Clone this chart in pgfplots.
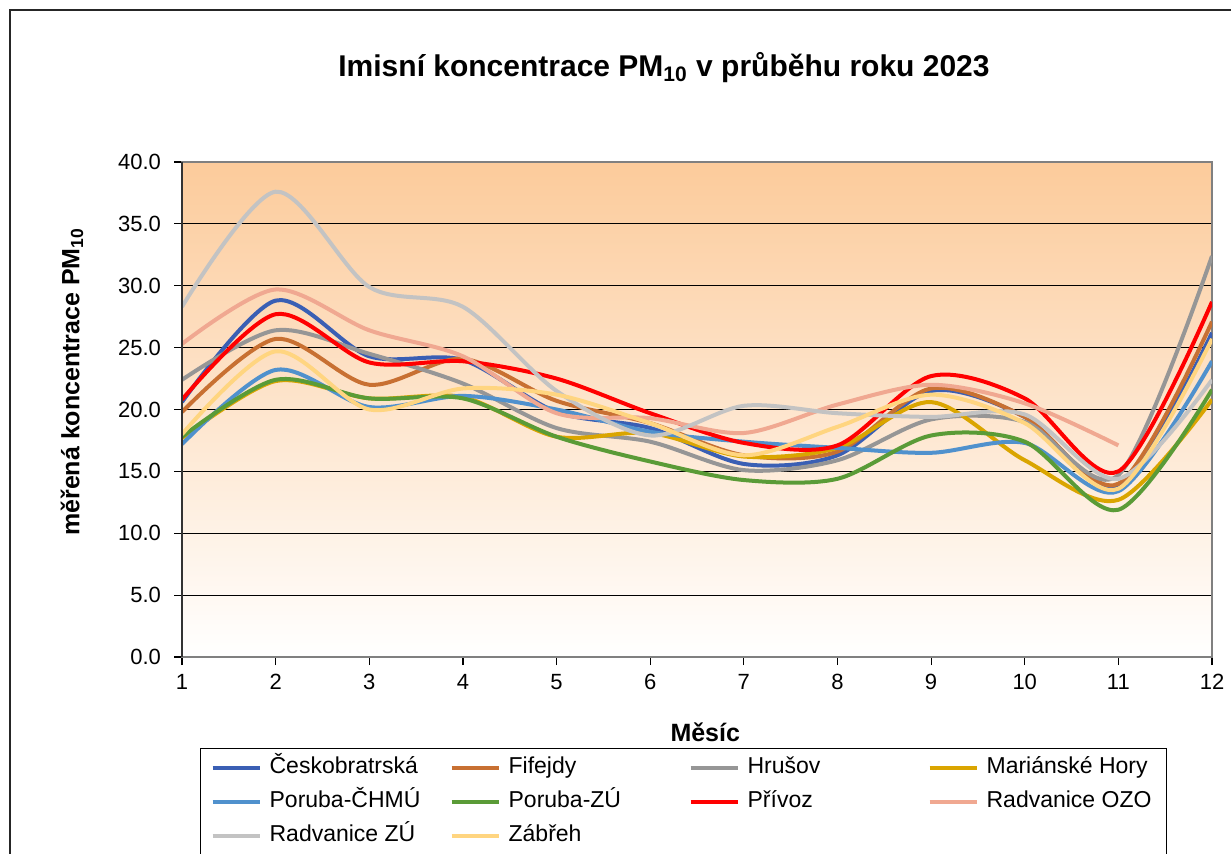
\documentclass[border=0pt]{standalone}
\usepackage{fontspec}
\setmainfont{Liberation Sans}
\usepackage{pgfplots}
\pgfplotsset{compat=1.18}
\definecolor{cCB}{RGB}{58,95,180}
\definecolor{cFif}{RGB}{200,112,50}
\definecolor{cHru}{RGB}{150,150,150}
\definecolor{cMar}{RGB}{218,165,0}
\definecolor{cPorC}{RGB}{80,145,205}
\definecolor{cPorZ}{RGB}{90,155,55}
\definecolor{cPri}{RGB}{255,0,0}
\definecolor{cOZO}{RGB}{240,168,145}
\definecolor{cRZU}{RGB}{195,195,195}
\definecolor{cZab}{RGB}{255,213,128}
\definecolor{peach}{RGB}{252,203,155}
\newcommand{\legtxt}[1]{\makebox[83pt][l]{#1}}
\begin{document}
\begin{tikzpicture}
\useasboundingbox (0,0) rectangle (615.5pt,426.5pt);
\draw[black!85, line width=0.6pt] (5pt,-20pt) -- (5pt,421.5pt) -- (640pt,421.5pt);
\node[font=\bfseries\fontsize{15}{18}\selectfont, anchor=base] at (332pt,388pt) {Imisní koncentrace PM\textsubscript{10} v průběhu roku 2023};
\begin{axis}[
  at={(91pt,98pt)}, anchor=south west,
  scale only axis, width=515pt, height=247.5pt,
  xmin=1, xmax=12, ymin=0, ymax=40,
  xtick={1,...,12}, ytick={0,5,...,40},
  tick pos=left, tick align=outside, major tick length=4pt,
  tick style={black, line width=0.6pt},
  ymajorgrids, grid style={black, line width=0.6pt},
  axis line style={draw=gray, line width=1.2pt},
  axis background/.style={shade, top color=peach, bottom color=white},
  /pgf/number format/assume math mode=true,
  yticklabel style={/pgf/number format/fixed, /pgf/number format/precision=1, /pgf/number format/fixed zerofill, font=\fontsize{11}{13}\selectfont, xshift=-3pt},
  xticklabel style={font=\fontsize{11}{13}\selectfont, yshift=-1pt},
  ylabel={měřená koncentrace PM\textsubscript{10}},
  ylabel style={font=\bfseries\fontsize{12.5}{15}\selectfont, at={(axis description cs:-0.1068,0.556)}, anchor=center},
  xlabel={Měsíc},
  xlabel style={font=\bfseries\fontsize{12.5}{15}\selectfont, at={(axis description cs:0.508,-0.1515)}, anchor=center},
  legend columns=4,
  legend cell align=left,
  legend image code/.code={\draw[#1, line width=2pt] (0pt,0pt) -- (23.5pt,0pt);},
  legend style={at={(axis description cs:0.0175,-0.1838)}, anchor=north west,
    draw=black, line width=0.6pt, inner xsep=5pt, inner ysep=2.5pt,
    font=\fontsize{11.5}{13}\selectfont,
    nodes={inner xsep=2pt, inner ysep=1.5pt, text height=8.5pt, text depth=2.5pt},
    row sep=3pt,
    /tikz/every odd column/.append style={column sep=2pt},
    /tikz/every even column/.append style={column sep=5pt}},
  every axis plot/.append style={smooth, tension=0.5, line width=2pt, no markers},
  after end axis/.code={\draw[black!80, line width=1.2pt] (rel axis cs:0,0) -- (rel axis cs:0,1);},
]
\addplot[cCB] coordinates {(1,20.6)(2,28.8)(3,24.3)(4,24.0)(5,19.8)(6,18.5)(7,15.6)(8,16.3)(9,21.5)(10,19.4)(11,13.8)(12,26.2)};
\addlegendentry{\legtxt{Českobratrská}}
\addplot[cFif] coordinates {(1,19.8)(2,25.7)(3,22.0)(4,24.1)(5,20.7)(6,18.9)(7,16.3)(8,16.6)(9,21.7)(10,19.4)(11,14.0)(12,27.1)};
\addlegendentry{\legtxt{Fifejdy}}
\addplot[cHru] coordinates {(1,22.4)(2,26.4)(3,24.5)(4,22.1)(5,18.5)(6,17.4)(7,15.1)(8,15.9)(9,19.2)(10,19.0)(11,14.7)(12,32.4)};
\addlegendentry{\legtxt{Hrušov}}
\addplot[cMar] coordinates {(1,17.7)(2,22.3)(3,20.9)(4,21.0)(5,17.8)(6,18.1)(7,16.2)(8,16.9)(9,20.6)(10,15.9)(11,12.7)(12,20.8)};
\addlegendentry{\legtxt{Mariánské Hory}}
\addplot[cPorC] coordinates {(1,17.2)(2,23.2)(3,20.2)(4,21.1)(5,20.0)(6,18.2)(7,17.4)(8,16.9)(9,16.5)(10,17.3)(11,13.4)(12,23.9)};
\addlegendentry{\legtxt{Poruba-ČHMÚ}}
\addplot[cPorZ] coordinates {(1,17.8)(2,22.4)(3,20.9)(4,20.9)(5,17.8)(6,15.8)(7,14.3)(8,14.4)(9,17.9)(10,17.4)(11,11.9)(12,21.6)};
\addlegendentry{\legtxt{Poruba-ZÚ}}
\addplot[cPri] coordinates {(1,20.8)(2,27.7)(3,23.8)(4,23.9)(5,22.5)(6,19.7)(7,17.3)(8,17.1)(9,22.7)(10,20.9)(11,15.0)(12,28.7)};
\addlegendentry{\legtxt{Přívoz}}
\addplot[cOZO] coordinates {(1,25.3)(2,29.7)(3,26.4)(4,24.3)(5,19.7)(6,19.3)(7,18.1)(8,20.4)(9,22.0)(10,20.5)(11,17.1)};
\addlegendentry{\legtxt{Radvanice OZO}}
\addplot[cRZU] coordinates {(1,28.3)(2,37.6)(3,29.9)(4,28.3)(5,21.5)(6,17.9)(7,20.3)(8,19.7)(9,19.4)(10,19.6)(11,14.4)(12,22.4)};
\addlegendentry{\legtxt{Radvanice ZÚ}}
\addplot[cZab] coordinates {(1,18.0)(2,24.7)(3,20.0)(4,21.7)(5,21.2)(6,18.9)(7,16.3)(8,18.6)(9,21.2)(10,18.9)(11,13.6)(12,25.7)};
\addlegendentry{\legtxt{Zábřeh}}
\end{axis}
\end{tikzpicture}
\end{document}
